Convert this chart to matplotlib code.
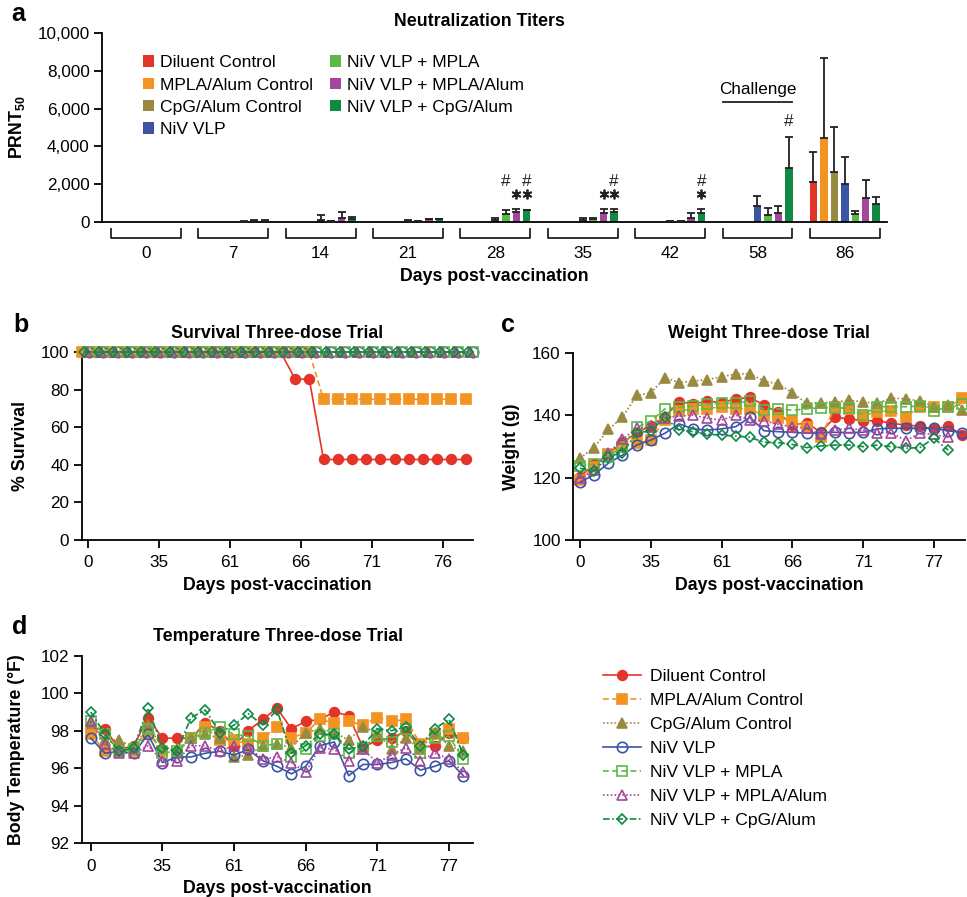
import matplotlib
matplotlib.use("Agg")
import matplotlib.pyplot as plt
import numpy as np
from matplotlib.patches import Patch
from matplotlib.lines import Line2D
from matplotlib.ticker import FuncFormatter
import matplotlib.transforms as mtrans

plt.rcParams['font.family'] = ['Liberation Sans', 'DejaVu Sans']
plt.rcParams['mathtext.default'] = 'regular'

# ---------------- data ----------------
groups = ["Diluent Control", "MPLA/Alum Control", "CpG/Alum Control", "NiV VLP",
          "NiV VLP + MPLA", "NiV VLP + MPLA/Alum", "NiV VLP + CpG/Alum"]
colors = ["#E3342A", "#F39321", "#998A42", "#3B55A5", "#5DB947", "#A3479B", "#0E8A44"]

# Panel a: neutralization titers (PRNT50), mean and upper error-bar end
titer_days = ["0", "7", "14", "21", "28", "35", "42", "58", "86"]
titer_mean = {
    "Diluent Control":      [0, 0, 0, 0, 0, 0, 0, 0, 2120],
    "MPLA/Alum Control":    [0, 0, 0, 0, 0, 0, 0, 0, 4430],
    "CpG/Alum Control":     [0, 0, 0, 0, 0, 0, 0, 0, 2620],
    "NiV VLP":              [0, 0, 90, 20, 90, 90, 20, 850, 1990],
    "NiV VLP + MPLA":       [0, 10, 35, 20, 390, 130, 20, 360, 410],
    "NiV VLP + MPLA/Alum":  [0, 30, 200, 130, 500, 450, 210, 450, 1270],
    "NiV VLP + CpG/Alum":   [0, 50, 130, 130, 600, 530, 450, 2870, 960],
}
titer_upper = {
    "Diluent Control":      [0, 0, 0, 0, 0, 0, 0, 0, 3720],
    "MPLA/Alum Control":    [0, 0, 0, 0, 0, 0, 0, 0, 8690],
    "CpG/Alum Control":     [0, 0, 0, 0, 0, 0, 0, 0, 5030],
    "NiV VLP":              [0, 0, 340, 70, 210, 180, 60, 1350, 3450],
    "NiV VLP + MPLA":       [0, 20, 60, 50, 600, 180, 50, 740, 580],
    "NiV VLP + MPLA/Alum":  [0, 100, 530, 160, 670, 660, 450, 830, 2210],
    "NiV VLP + CpG/Alum":   [0, 70, 230, 170, 620, 670, 660, 4510, 1330],
}
# significance marks: (day index, group index, symbol, value height)
sig_marks = [(4, 4, "#", 2120), (4, 5, "*", 1470), (4, 6, "#", 2120), (4, 6, "*", 1470),
             (5, 5, "*", 1470), (5, 6, "#", 2120), (5, 6, "*", 1470),
             (6, 6, "#", 2120), (6, 6, "*", 1470), (7, 6, "#", 5300)]

# Panel b: survival (%)
surv_x = [-0.4 + k for k in range(28)]
survival = {
    "Diluent Control":     [100]*15 + [85.7, 85.7] + [42.9]*11,
    "MPLA/Alum Control":   [100]*17 + [75]*11,
    "CpG/Alum Control":    [100]*28,
    "NiV VLP":             [100]*28,
    "NiV VLP + MPLA":      [100]*28,
    "NiV VLP + MPLA/Alum": [100]*28,
    "NiV VLP + CpG/Alum":  [100]*28,
}
surv_shift = [0, 0, 0.33, 0.5, 0.5, 0.33, 0.17]
surv_ticklabels = ["0", "35", "61", "66", "71", "76"]

# Panel c: weight (g)
weight = {
    "Diluent Control": [120.3, 124.2, 127.5, 131.3, 134.3, 136.6, 139.5, 144.3, 143.6, 144.5,
                        144.0, 145.2, 145.7, 143.2, 140.9, 136.8, 137.6, 134.5, 139.3, 138.8,
                        138.2, 138.2, 137.4, 136.8, 136.5, 135.4, 136.5, 133.6],
    "MPLA/Alum Control": [119.2, 123.5, 127.5, 129.9, 131.0, 132.0, 138.6, 141.3, 142.0, 142.1,
                          142.7, 142.0, 142.0, 139.8, 139.2, 138.1, 136.1, 132.9, 142.5, 142.0,
                          139.8, 141.1, 141.4, 139.3, 142.7, 142.5, 142.5, 145.4],
    "CpG/Alum Control": [126.2, 129.6, 135.4, 139.3, 146.3, 147.1, 152.0, 150.4, 150.9, 151.4,
                         152.3, 153.2, 153.3, 150.9, 150.0, 147.2, 143.8, 144.0, 144.1, 144.8,
                         144.2, 143.8, 145.5, 145.2, 144.6, 142.7, 143.3, 141.8],
    "NiV VLP": [118.5, 120.9, 124.6, 127.2, 130.4, 132.0, 134.2, 137.2, 135.6, 135.2,
                135.6, 136.3, 139.3, 135.0, 134.7, 134.5, 134.2, 134.4, 134.5, 134.4,
                134.5, 135.6, 135.8, 135.8, 135.8, 135.8, 135.0, 134.4],
    "NiV VLP + MPLA": [123.8, 124.3, 126.7, 129.9, 136.1, 138.1, 142.0, 142.5, 142.9, 143.5,
                       143.8, 143.8, 144.5, 141.8, 142.0, 141.6, 142.0, 142.4, 142.4, 142.2,
                       140.2, 142.7, 142.7, 142.7, 142.9, 141.4, 142.5, 143.5],
    "NiV VLP + MPLA/Alum": [119.7, 122.4, 127.8, 132.3, 135.8, 136.1, 139.0, 139.7, 140.0, 139.0,
                            138.4, 140.0, 138.4, 138.2, 137.0, 136.3, 135.8, 133.9, 135.2, 135.8,
                            135.2, 134.4, 134.4, 131.8, 134.2, 133.8, 132.9],
    "NiV VLP + CpG/Alum": [123.0, 122.1, 126.7, 128.0, 134.2, 135.0, 139.3, 135.2, 134.7, 133.9,
                           133.6, 133.3, 132.9, 131.3, 131.2, 130.6, 129.6, 130.1, 130.4, 130.4,
                           129.9, 130.4, 129.9, 129.4, 129.6, 132.6, 128.8],
}
time_ticklabels = ["0", "35", "61", "66", "71", "77"]

# Panel d: body temperature (F)
temperature = {
    "Diluent Control": [98.1, 98.1, 97.0, 97.2, 98.7, 97.6, 97.6, 97.6, 98.4, 98.0, 97.2, 98.0,
                        98.6, 99.2, 98.1, 98.5, 98.6, 99.0, 98.8, 97.1, 97.5, 97.6, 98.0, 97.1,
                        97.2, 97.9, 97.6],
    "MPLA/Alum Control": [97.8, 96.9, 97.1, 96.9, 97.9, 96.9, 96.8, 97.6, 98.2, 97.5, 97.5, 97.3,
                          97.6, 98.2, 97.6, 97.9, 98.6, 98.4, 98.5, 98.3, 98.7, 98.5, 98.6, 97.3,
                          97.8, 98.1, 97.6],
    "CpG/Alum Control": [98.4, 97.5, 97.5, 97.1, 98.3, 97.1, 97.0, 97.6, 97.8, 97.6, 96.6, 96.7,
                         97.2, 97.3, 97.1, 97.9, 98.1, 97.9, 97.5, 98.2, 97.9, 97.0, 97.6, 97.0,
                         97.9, 97.2, 96.9],
    "NiV VLP": [97.6, 96.8, 96.9, 96.8, 97.8, 96.3, 96.6, 96.6, 96.8, 96.9, 96.7, 97.0,
                96.4, 96.1, 95.7, 96.1, 97.2, 97.4, 95.6, 96.2, 96.2, 96.3, 96.5, 95.9,
                96.1, 96.4, 95.6],
    "NiV VLP + MPLA": [98.5, 97.8, 96.9, 97.0, 98.1, 96.8, 96.9, 97.6, 97.9, 98.2, 97.8, 97.7,
                       97.2, 97.3, 96.6, 97.0, 97.7, 97.8, 96.8, 97.1, 97.7, 97.4, 98.1, 96.8,
                       97.6, 97.7, 96.5],
    "NiV VLP + MPLA/Alum": [98.5, 97.3, 96.8, 96.8, 97.2, 96.4, 96.4, 97.2, 97.2, 96.9, 97.2, 97.1,
                            96.5, 96.6, 96.3, 95.8, 97.1, 97.0, 96.4, 97.0, 96.3, 96.7, 97.1, 96.4,
                            96.8, 96.5, 95.8],
    "NiV VLP + CpG/Alum": [99.0, 97.8, 96.9, 97.1, 99.2, 97.1, 96.9, 98.7, 99.1, 97.9, 98.3, 98.9,
                           98.3, 99.1, 96.8, 97.2, 97.8, 97.8, 97.0, 97.2, 98.1, 98.0, 98.2, 97.2,
                           98.1, 98.6, 96.7],
}

# ---------------- styles ----------------
line_styles = ["-", (0, (3.5, 2)), (0, (1, 1.3)), "-", (0, (3.5, 2)), (0, (1, 1.3)),
               (0, (4, 1.5, 1, 1.5))]
markers = ["o", "s", "^", "o", "s", "^", "D"]
filled = [True, True, True, False, False, False, False]
msizes = [7, 7, 7, 7.5, 7.5, 7.5, 5.5]

TICK = 12.3
LAB = 12.8
LEG = 12.6
LW = 1.2

fig = plt.figure(figsize=(9.67, 8.97), dpi=100)


def style_axes(ax):
    for s in ["top", "right"]:
        ax.spines[s].set_visible(False)
    for s in ["left", "bottom"]:
        ax.spines[s].set_linewidth(1.3)
    ax.tick_params(axis="both", length=6, width=1.3, labelsize=TICK, direction="out", pad=3)


# ---------------- panel a ----------------
axa = fig.add_axes([0.1058, 0.7528, 0.8112, 0.2101])
style_axes(axa)
ng = len(groups)
pitch = 0.1196
bw = 0.086
for gi, g in enumerate(groups):
    xs = np.arange(len(titer_days)) + (gi - (ng - 1) / 2) * pitch
    m = np.array(titer_mean[g], dtype=float)
    u = np.array(titer_upper[g], dtype=float)
    axa.bar(xs, m, width=bw, color=colors[gi], zorder=2)
    for x, mv, uv in zip(xs, m, u):
        if uv > 0:
            axa.errorbar([x], [mv], yerr=[[0], [uv - mv]], fmt="none", ecolor="#222222",
                         elinewidth=1.3, capsize=2.6, capthick=1.3, zorder=3)
for di, gi, sym, h in sig_marks:
    x = di + (gi - (ng - 1) / 2) * pitch
    if sym == "*":
        axa.plot([x], [h], marker=(6, 2, 0), markersize=7, markeredgewidth=1.3,
                 color="#222222", linestyle="none")
    else:
        axa.text(x, h, sym, ha="center", va="center", fontsize=TICK, color="#222222")
axa.set_xlim(-0.5, 8.48)
axa.set_ylim(0, 10000)
axa.set_yticks(np.arange(0, 10001, 2000))
axa.yaxis.set_major_formatter(FuncFormatter(lambda v, p: f"{int(v):,}"))
axa.set_xticks([])
axa.set_ylabel("PRNT$_{50}$", fontsize=LAB, fontweight="bold")
axa.yaxis.set_label_coords(-0.096, 0.5)
trans = mtrans.blended_transform_factory(axa.transData, axa.transAxes)
for di, d in enumerate(titer_days):
    axa.plot([di - 0.40, di - 0.40, di + 0.40, di + 0.40], [-0.039, -0.088, -0.088, -0.039],
             transform=trans, color="#222222", lw=1.3, clip_on=False)
    axa.text(di, -0.17, d, transform=trans, ha="center", va="center", fontsize=TICK)
axa.text(0.5, -0.293, "Days post-vaccination", transform=axa.transAxes, ha="center",
         va="center", fontsize=LAB, fontweight="bold")
axa.text(0.481, 1.06, "Neutralization Titers", transform=axa.transAxes, ha="center",
         va="center", fontsize=LAB, fontweight="bold")
# challenge marker
axa.text(7.0, 7000, "Challenge", ha="center", va="center", fontsize=TICK)
axa.plot([6.6, 7.4], [6370, 6370], color="#222222", lw=1.3)
handles_a = [Patch(facecolor=c, edgecolor="none") for c in colors]
axa.legend(handles_a, groups, ncol=2, loc="upper left", bbox_to_anchor=(0.043, 0.921),
           frameon=False, fontsize=LEG, handlelength=0.6, handleheight=0.6,
           handletextpad=0.35, labelspacing=0.42, columnspacing=1.0, borderaxespad=0)


def line_panel(rect, data, xpos_shift, xlim, ylim, yticks, ticklabels, ylabel, title, ylab_x):
    ax = fig.add_axes(rect)
    style_axes(ax)
    for gi, g in enumerate(groups):
        y = data[g]
        if xpos_shift is None:
            x = np.arange(len(y))
        else:
            x = np.array(surv_x[:len(y)]) + xpos_shift[gi]
        ax.plot(x, y, color=colors[gi], linestyle=line_styles[gi], lw=LW,
                marker=markers[gi], markersize=msizes[gi],
                markerfacecolor=colors[gi] if filled[gi] else "none",
                markeredgecolor=colors[gi], markeredgewidth=1.2, clip_on=False, zorder=3)
    ax.set_xlim(*xlim)
    ax.set_ylim(*ylim)
    ax.set_yticks(yticks)
    ax.set_xticks([0, 5, 10, 15, 20, 25])
    ax.set_xticklabels(ticklabels)
    ax.tick_params(axis="x", pad=5)
    ax.set_xlabel("Days post-vaccination", fontsize=LAB, fontweight="bold")
    ax.xaxis.set_label_coords(0.5, -0.198)
    ax.set_ylabel(ylabel, fontsize=LAB, fontweight="bold")
    ax.yaxis.set_label_coords(ylab_x, 0.5)
    ax.text(0.5, 1.102, title, transform=ax.transAxes, ha="center", va="center",
            fontsize=LAB, fontweight="bold")
    return ax


axb = line_panel([0.0845, 0.398, 0.4043, 0.2092], survival, surv_shift, (-0.42, 27.1), (0, 100),
                 np.arange(0, 101, 20), surv_ticklabels, "% Survival", "Survival Three-dose Trial", -0.135)
axc = line_panel([0.5929, 0.398, 0.4051, 0.2088], weight, None, (-0.47, 27.2), (100, 160),
                 [100, 120, 140, 160], time_ticklabels, "Weight (g)", "Weight Three-dose Trial", -0.136)
axd = line_panel([0.0845, 0.0599, 0.405, 0.2092], temperature, None, (-0.63, 26.7), (92, 102),
                 np.arange(92, 103, 2), time_ticklabels, "Body Temperature (°F)",
                 "Temperature Three-dose Trial", -0.145)

handles_l = [Line2D([0], [0], color=colors[i], linestyle=line_styles[i], lw=LW, marker=markers[i],
                    markersize=msizes[i], markerfacecolor=colors[i] if filled[i] else "none",
                    markeredgecolor=colors[i], markeredgewidth=1.2) for i in range(ng)]
fig.legend(handles_l, groups, loc="upper left", bbox_to_anchor=(0.616, 0.262), frameon=False,
           fontsize=LEG, handlelength=2.2, handletextpad=0.5, labelspacing=0.5, borderaxespad=0)

for lab, x, y in [("a", 18, 14), ("b", 21, 325), ("c", 508, 325), ("d", 20, 627)]:
    fig.text(x / 967, 1 - y / 897, lab, ha="center", va="center", fontsize=18, fontweight="bold")

fig.savefig("out.png", dpi=100)
